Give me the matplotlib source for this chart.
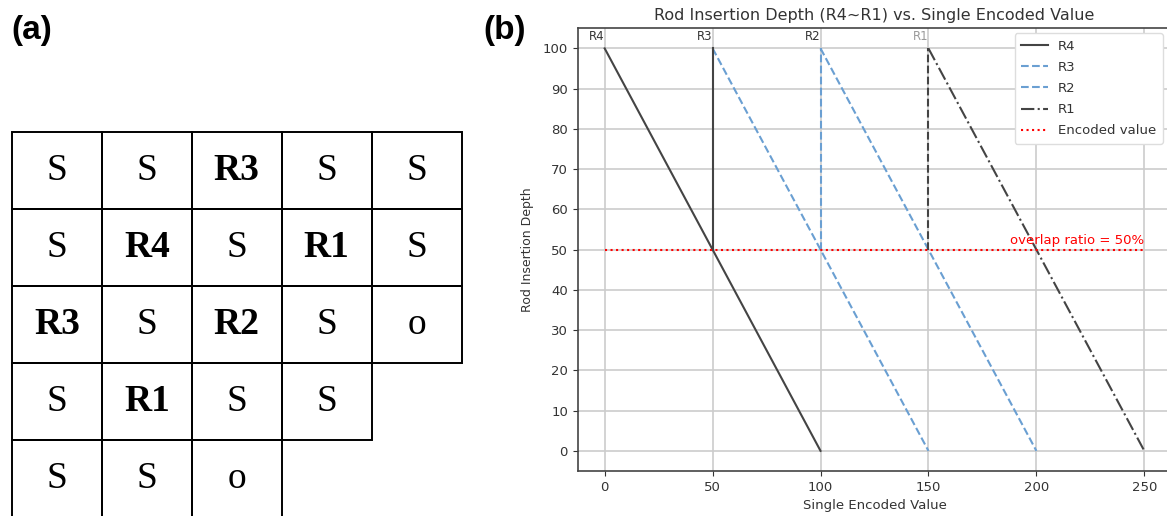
import numpy as np
import matplotlib
matplotlib.use('Agg')
import matplotlib.pyplot as plt
from matplotlib.patches import Rectangle

# panel (a): grid layout of rods (R) and spaces (S / o)
grid_rows = [
    ['S', 'S', 'R3', 'S', 'S'],
    ['S', 'R4', 'S', 'R1', 'S'],
    ['R3', 'S', 'R2', 'S', 'o'],
    ['S', 'R1', 'S', 'S'],
    ['S', 'S', 'o'],
]

# panel (b): rod insertion depth vs encoded value
rod_names = ['R4', 'R3', 'R2', 'R1']
rod_start = [0, 50, 100, 150]
rod_end = [100, 150, 200, 250]
depth_top = 100
depth_bottom = 0
step_x = [50, 100, 150]
step_y = [50, 100]
encoded_x = [0, 250]
encoded_y = 50
overlap_pct = 50

W, H = 1167, 516
fig = plt.figure(figsize=(W / 100, H / 100), dpi=100)
fig.patch.set_facecolor('white')

def fx(px):
    return px / W

def fy(py):
    return 1 - py / H

# ---------- (a) ----------
cw, ch = 89.9, 77.0
axa = fig.add_axes([fx(12), fy(132 + 5 * ch), fx(5 * cw), 5 * ch / H])
axa.set_xlim(0, 5)
axa.set_ylim(5, 0)
axa.axis('off')
for r, row in enumerate(grid_rows):
    for c, lab in enumerate(row):
        axa.add_patch(Rectangle((c, r), 1, 1, fill=False, ec='black', lw=1.4, clip_on=False))
        bold = lab.startswith('R')
        axa.text(c + 0.5, r + 0.5, lab, ha='center', va='center',
                 family='Liberation Serif', fontsize=27,
                 fontweight='bold' if bold else 'normal', color='black')

fig.text(fx(11), fy(31), '(a)', family='Liberation Sans', fontweight='bold',
         fontsize=24, ha='left', va='center')
fig.text(fx(483), fy(31), '(b)', family='Liberation Sans', fontweight='bold',
         fontsize=24, ha='left', va='center')

# ---------- (b) ----------
txt = '#333333'
dark = '#444444'
blue = '#6a9fd2'
axb = fig.add_axes([fx(577.7), fy(471), fx(1171.3 - 577.7), (471 - 28.3) / H])

styles = [('-', dark), ('--', blue), ('--', blue), ('-.', dark)]
for name, s, e, (ls, col) in zip(rod_names, rod_start, rod_end, styles):
    axb.plot([s, e], [depth_top, depth_bottom], ls=ls, color=col, lw=1.5, label=name)

step_styles = [('-', dark), ('--', blue), ('--', dark)]
for x, (ls, col) in zip(step_x, step_styles):
    axb.plot([x, x], step_y, ls=ls, color=col, lw=1.5)

axb.plot(encoded_x, [encoded_y, encoded_y], ls=':', color='red', lw=1.5, label='Encoded value')
axb.text(encoded_x[1], encoded_y + 0.6, f'overlap ratio = {overlap_pct}%', color='red',
         ha='right', va='bottom', fontsize=9.5)

name_colors = [txt, txt, txt, '#999999']
for name, s, col in zip(rod_names, rod_start, name_colors):
    axb.text(s, depth_top + 1.3, name, ha='right', va='bottom', fontsize=8.5, color=col)

axb.set_xlim(-12.5, 262.5)
axb.set_ylim(-5, 105)
axb.set_xticks([0, 50, 100, 150, 200, 250])
axb.set_yticks(np.arange(0, 101, 10))
axb.grid(True, color='#cccccc', lw=1.2)
axb.set_axisbelow(True)
axb.tick_params(labelsize=9.5, colors=txt)
for sp in axb.spines.values():
    sp.set_color('#444444')
    sp.set_linewidth(1.2)
axb.set_title('Rod Insertion Depth (R4~R1) vs. Single Encoded Value', fontsize=11.5, color=txt, pad=6)
axb.set_xlabel('Single Encoded Value', fontsize=9.5, color=txt, labelpad=4)
axb.set_ylabel('Rod Insertion Depth', fontsize=9, color=txt, labelpad=6)

leg = axb.legend(loc='upper right', bbox_to_anchor=(fx(1163), fy(33)),
                 bbox_transform=fig.transFigure, borderaxespad=0, fontsize=9.5,
                 labelspacing=0.62, borderpad=0.5,
                 framealpha=1, edgecolor='#dddddd', fancybox=True)
for t in leg.get_texts():
    t.set_color(txt)

fig.savefig('out.png', dpi=100)
